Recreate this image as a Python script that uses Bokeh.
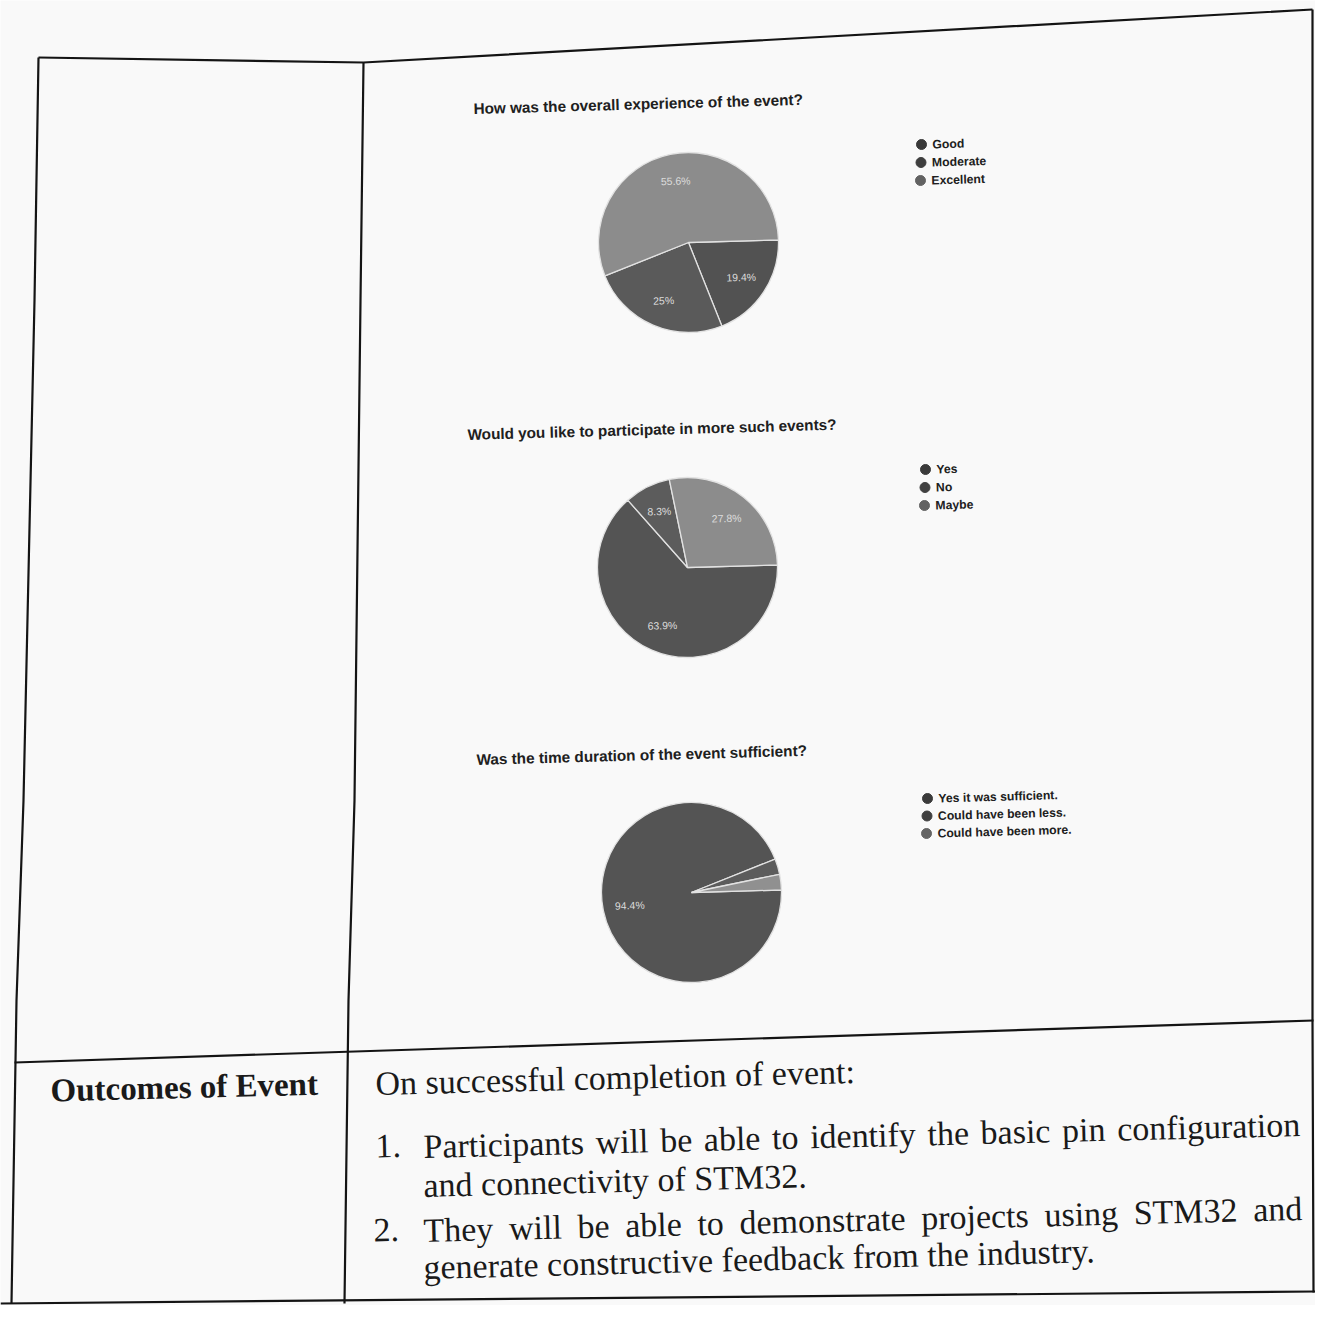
import numpy as np
from bokeh.plotting import figure
from bokeh.models import Range1d, ColumnDataSource
from bokeh.core.properties import value
from bokeh.embed import file_html
from bokeh.resources import INLINE

W, H = 1331, 1321

# ---------------- data ----------------
q1_title = "How was the overall experience of the event?"
q1_labels = ["Good", "Moderate", "Excellent"]
q1_values = [19.4, 25.0, 55.6]
q1_colors = ["#525252", "#5a5a5a", "#8c8c8c"]

q2_title = "Would you like to participate in more such events?"
q2_labels = ["Yes", "No", "Maybe"]
q2_values = [63.9, 8.3, 27.8]
q2_colors = ["#545454", "#5c5c5c", "#8c8c8c"]

q3_title = "Was the time duration of the event sufficient?"
q3_labels = ["Yes it was sufficient.", "Could have been less.", "Could have been more."]
q3_values = [94.4, 2.8, 2.8]
q3_colors = ["#545454", "#5c5c5c", "#909090"]

row_label = "Outcomes of Event"
intro_line = "On successful completion of event:"
item_numbers = ["1.", "2."]
item_lines = [
    ["Participants will be able to identify the basic pin configuration",
     "and connectivity of STM32."],
    ["They will be able to demonstrate projects using STM32 and",
     "generate constructive feedback from the industry."],
]

# ---------------- figure ----------------
FW, FH = 1315, 1305
p = figure(width=FW, height=FH, x_range=Range1d(0, FW), y_range=Range1d(H - FH, H),
           output_backend="svg", toolbar_location=None, min_border=0)
p.axis.visible = False
p.grid.visible = False
p.outline_line_color = None
p.background_fill_color = "#f9f9f9"
p.border_fill_color = "#f9f9f9"

TILT = 0.028       # scan rotation of the chart area (rad)
TILT_BODY = 0.025  # scan rotation of the typed text


def Y(y):
    return H - y


# ---------------- table rules (scanned page) ----------------
rules = [
    [(38, 57), (363, 62), (1312, 9)],                                   # top
    [(38, 57), (34, 300), (23, 800), (16, 1000), (11, 1303)],          # left
    [(363, 62), (360, 300), (354, 800), (348, 1000), (344, 1303)],     # divider
    [(1312, 9), (1312, 1020), (1313, 1292)],                             # right
    [(14, 1062), (1313, 1020)],                                         # middle
    [(0, 1303), (1315, 1291)],                                          # bottom
]
for r in rules:
    p.line([a for a, b in r], [Y(b) for a, b in r], line_color="#141414", line_width=2.2)


def darker(c, f=0.7):
    v = int(c[1:3], 16)
    g = max(0, int(v * f))
    return "#%02x%02x%02x" % (g, g, g)


# ---------------- pies ----------------
def pie(cx, cy, r, title, tpos, labels, vals, cols, lpos):
    fr = np.array(vals, dtype=float) / sum(vals)
    cum = np.concatenate([[0.0], np.cumsum(fr)])
    starts = TILT - 2 * np.pi * cum[:-1]
    ends = TILT - 2 * np.pi * cum[1:]
    src = ColumnDataSource(dict(start=starts, end=ends, color=cols))
    p.wedge(x=cx, y=Y(cy), radius=r, start_angle="start", end_angle="end",
            direction="clock", fill_color="color", line_color="#e2e2e2",
            line_width=1.3, source=src)
    mid = (starts + ends) / 2
    txt = [f"{v:g}%" if v >= 5 else "" for v in vals]
    lsrc = ColumnDataSource(dict(x=cx + 0.7 * r * np.cos(mid),
                                 y=Y(cy) + 0.7 * r * np.sin(mid), t=txt))
    p.text(x="x", y="y", text="t", source=lsrc, text_align="center",
           text_baseline="middle", text_font=value("Liberation Sans"),
           text_font_size="10.5px", text_color="#dcdcdc", angle=TILT)
    # title
    p.text(x=[tpos[0]], y=[Y(tpos[1])], text=[title], text_font=value("Liberation Sans"),
           text_font_style="bold", text_font_size="15.3px", text_color="#202020",
           text_baseline="alphabetic", angle=TILT)
    # legend
    lx, ly, step = lpos
    ys = [ly + i * step for i in range(len(labels))]
    xs = [lx - i * step * TILT for i in range(len(labels))]
    dots = [darker(c) for c in cols]
    p.scatter(x=xs, y=[Y(v) for v in ys], size=10, marker="circle",
              fill_color=dots, line_color=dots)
    p.text(x=[x + 11 for x in xs], y=[Y(v) for v in ys], text=labels,
           text_font=value("Liberation Sans"), text_font_style="bold",
           text_font_size="12.2px", text_color="#202020", text_baseline="middle",
           angle=TILT)


pie(688, 242, 90, q1_title, (473, 108), q1_labels, q1_values, q1_colors, (921, 144, 18))
pie(687, 567, 90, q2_title, (467, 434), q2_labels, q2_values, q2_colors, (925, 469, 18))
pie(691, 892, 90, q3_title, (476, 759), q3_labels, q3_values, q3_colors, (927, 798, 17.5))

# ---------------- outcomes text ----------------
TNR = dict(a=444, b=500, c=444, d=500, e=444, f=333, g=500, h=500, i=278, j=278, k=500,
           l=278, m=778, n=500, o=500, p=500, q=500, r=333, s=389, t=278, u=500, v=500,
           w=722, x=500, y=500, z=444, P=556, T=611, S=556, M=889, O=722)
TNR.update({" ": 250, ".": 250, ":": 278, "2": 500, "3": 500})
FS = 34


def tw(s):
    return sum(TNR.get(ch, 500) for ch in s) / 1000.0 * FS


def put(xs, ys, words):
    p.text(x=xs, y=[Y(v) for v in ys], text=words, text_font=value("Liberation Serif"),
           text_font_size=f"{FS}px", text_color="#1a1a1a", text_baseline="alphabetic",
           angle=TILT_BODY)


def line_at(s, x0, y0, justify=None):
    if justify is None:
        put([x0], [y0], [s])
        return
    words = s.split(" ")
    wsum = sum(tw(w) for w in words)
    gap = (justify - wsum) / (len(words) - 1)
    d, xs, ys = 0.0, [], []
    for w in words:
        xs.append(x0 + d * np.cos(TILT_BODY))
        ys.append(y0 - d * np.sin(TILT_BODY))
        d += tw(w) + gap
    put(xs, ys, words)


p.text(x=[50], y=[Y(1090)], text=[row_label], text_font=value("Liberation Serif"),
       text_font_style="bold", text_font_size="33px", text_color="#1a1a1a",
       text_baseline="alphabetic", angle=TILT_BODY)

line_at(intro_line, 375, 1083)
put([375, 373], [1146, 1230], item_numbers)
line_at(item_lines[0][0], 423, 1146, justify=877)
line_at(item_lines[0][1], 423, 1185)
line_at(item_lines[1][0], 423, 1230, justify=879)
line_at(item_lines[1][1], 423, 1267)

open("out.html", "w").write(file_html(p, INLINE))
